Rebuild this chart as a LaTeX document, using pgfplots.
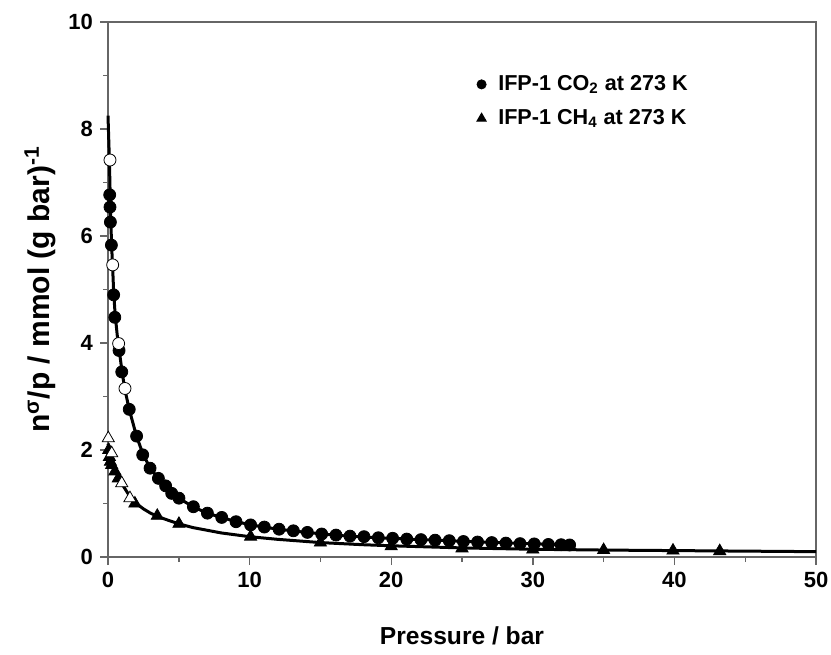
\documentclass[border=0pt]{standalone}
\usepackage{pgfplots}
\pgfplotsset{compat=1.18}
\usepackage{fontspec}
\setmainfont{Liberation Sans}

\begin{document}
\begin{tikzpicture}
\begin{axis}[
  width=354pt, height=267.5pt, scale only axis,
  xmin=0, xmax=50, ymin=0, ymax=10,
  xtick={0,10,...,50}, ytick={0,2,...,10},
  minor xtick={5,15,...,45}, minor ytick={1,3,...,9},
  tick align=outside, xtick pos=bottom, ytick pos=left,
  major tick length=4pt, minor tick length=2.5pt,
  axis line style={black!60, line width=0.7pt},
  every tick/.style={black!60, line width=0.7pt},
  ticklabel style={font=\fontsize{11}{13}\selectfont\bfseries},
  /pgf/number format/assume math mode=true,
  xlabel={Pressure / bar},
  ylabel={n\textsuperscript{σ}/p / mmol (g bar)\textsuperscript{-1}},
  xlabel style={font=\fontsize{12.3}{14}\selectfont\bfseries, at={(axis description cs:0.5,-0.148)}, anchor=center},
  ylabel style={font=\fontsize{15}{17}\selectfont\bfseries, at={(axis description cs:-0.096,0.5)}, anchor=center},
  legend style={draw=none, fill=none, at={(axis cs:25.6,9.16)}, anchor=north west,
    font=\fontsize{10.8}{13}\selectfont\bfseries, row sep=4pt},
  legend cell align=left,
  clip=false,
]
% CO2 fit
\addplot[black, line width=1.5pt, forget plot] coordinates {
(0,8.25)(0.1,7.4)(0.15,6.8)(0.2,6.3)(0.25,5.85)(0.33,5.4)(0.4,4.95)(0.5,4.55)(0.65,4.15)(0.8,3.85)(1.0,3.45)(1.2,3.12)(1.5,2.76)(2,2.27)(2.5,1.9)(3,1.66)(3.5,1.48)(4,1.33)(4.5,1.2)(5,1.1)(6,0.94)(7,0.82)(8,0.74)(9,0.665)(10,0.605)(11,0.56)(12,0.52)(13,0.49)(14,0.46)(15,0.435)(16,0.41)(17,0.39)(18,0.375)(19,0.36)(20,0.35)(22,0.325)(24,0.305)(26,0.285)(28,0.265)(30,0.248)(32,0.232)(33,0.225)
};
% CH4 fit
\addplot[black, line width=1.5pt, forget plot] coordinates {
(0,2.12)(0.1,2.0)(0.25,1.85)(0.5,1.66)(0.75,1.5)(1,1.36)(1.5,1.15)(2,1.0)(2.5,0.9)(3,0.82)(3.5,0.76)(4,0.71)(5,0.62)(6,0.55)(7,0.5)(8,0.45)(10,0.38)(12,0.33)(15,0.27)(18,0.23)(20,0.21)(25,0.17)(30,0.145)(35,0.13)(40,0.12)(45,0.11)(50,0.1)
};
% CO2 filled
\addplot[only marks, mark=*, mark size=3pt, black, legend image post style={mark size=2.3pt}] coordinates {
(0.12,6.77)(0.14,6.54)(0.17,6.26)(0.24,5.83)(0.40,4.90)(0.48,4.48)(0.78,3.86)(0.97,3.46)(1.5,2.76)(2.02,2.26)(2.45,1.91)(2.97,1.66)(3.56,1.47)(4.07,1.33)(4.5,1.19)(5.01,1.10)(6.03,0.94)(7.02,0.82)(8.03,0.74)(9.04,0.66)(10.07,0.60)(11.04,0.56)(12.08,0.52)(13.09,0.49)(14.08,0.46)(15.09,0.43)(16.1,0.41)(17.09,0.39)(18.08,0.38)(19.09,0.36)(20.1,0.35)(21.1,0.335)(22.1,0.325)(23.1,0.315)(24.1,0.305)(25.1,0.29)(26.1,0.28)(27.1,0.27)(28.1,0.26)(29.1,0.25)(30.1,0.245)(31.1,0.235)(32.0,0.23)(32.6,0.225)
};
\addlegendentry{\hspace{4pt}IFP-1 CO\textsubscript{2} at 273 K}
% CH4 filled
\addplot[only marks, mark=triangle*, mark size=3.5pt, black, legend image post style={mark size=2.7pt}] coordinates {
(0.05,2.0)(0.1,1.87)(0.17,1.78)(0.26,1.72)(0.49,1.6)(0.73,1.47)(1.9,1.0)(3.48,0.77)(5.01,0.62)(10.07,0.38)(15,0.27)(20,0.2)(25,0.16)(30,0.14)(35,0.13)(39.9,0.12)(43.2,0.11)
};
\addlegendentry{\hspace{4pt}IFP-1 CH\textsubscript{4} at 273 K}
% open circles
\addplot[only marks, mark=*, mark size=3pt, mark options={fill=white, draw=black, line width=0.4pt}, forget plot] coordinates {
(0.14,7.42)(0.33,5.46)(0.75,3.99)(1.2,3.15)
};
% open triangles
\addplot[only marks, mark=triangle*, mark size=3.5pt, mark options={fill=white, draw=black, line width=0.4pt}, forget plot] coordinates {
(0.02,2.22)(0.26,1.94)(0.97,1.38)(1.55,1.10)
};
\end{axis}
\pgfresetboundingbox
\path ([xshift=-54pt,yshift=-48.5pt]current axis.south west) rectangle ([xshift=7.5pt,yshift=11pt]current axis.north east);
\end{tikzpicture}
\end{document}
